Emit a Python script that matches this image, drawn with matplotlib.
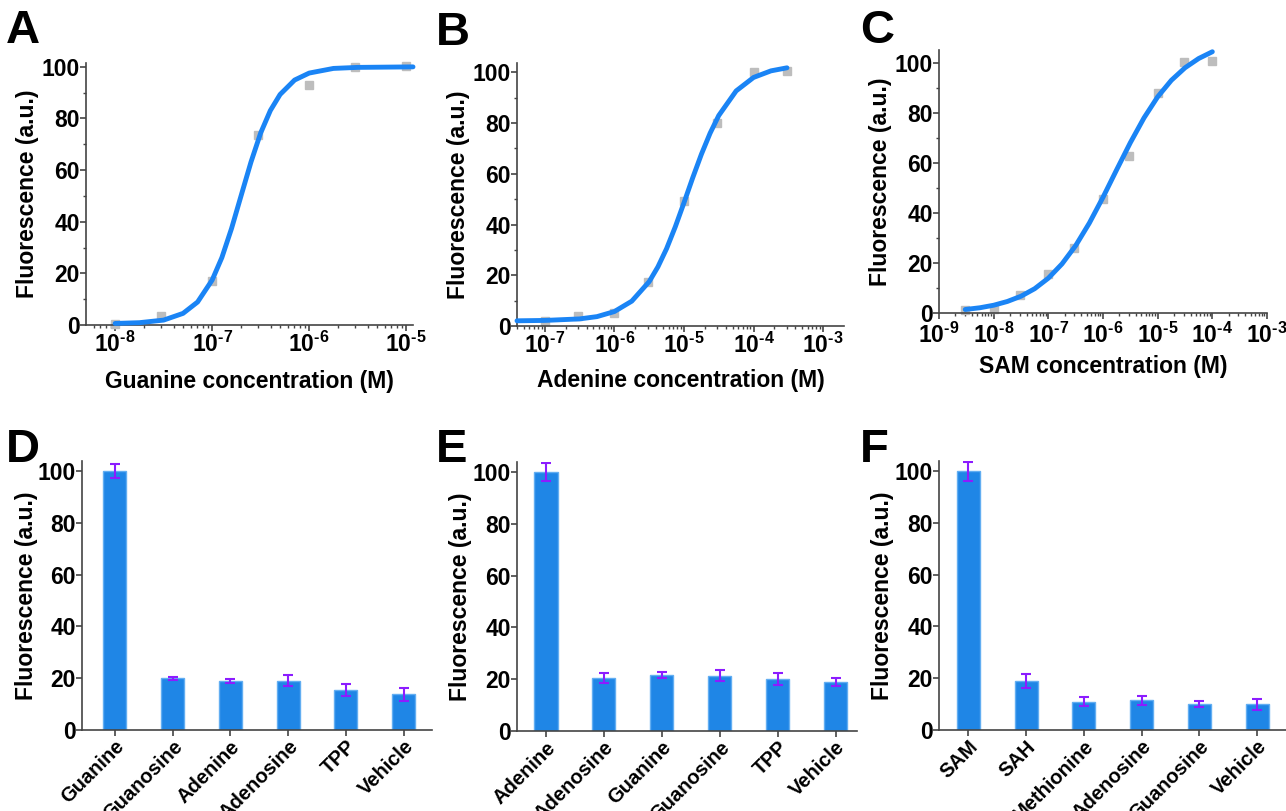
import numpy as np
import matplotlib
matplotlib.use("Agg")
import matplotlib.pyplot as plt
from matplotlib.ticker import FuncFormatter, LogLocator, MultipleLocator, NullFormatter

plt.rcParams['font.family'] = ['Liberation Sans', 'DejaVu Sans']
plt.rcParams['font.weight'] = 'bold'
plt.rcParams['mathtext.fontset'] = 'custom'
plt.rcParams['mathtext.rm'] = 'Liberation Sans:bold'
plt.rcParams['mathtext.bf'] = 'Liberation Sans:bold'

# ---- dose-response data (grey squares) ----
a_conc = [1e-8, 3e-8, 1e-7, 3e-7, 1e-6, 3e-6, 1e-5]
a_fluo = [0.5, 3.5, 17.0, 73.5, 93.0, 100.0, 100.5]
b_conc = [1e-7, 3e-7, 1e-6, 3e-6, 1e-5, 3e-5, 1e-4, 3e-4]
b_fluo = [2.0, 3.9, 5.3, 17.5, 49.4, 80.0, 100.0, 100.5]
c_conc = [3e-9, 1e-8, 3e-8, 1e-7, 3e-7, 1e-6, 3e-6, 1e-5, 3e-5, 1e-4]
c_fluo = [1.3, 1.6, 7.3, 15.7, 26.0, 45.5, 62.8, 88.0, 100.3, 100.7]

# ---- fitted curves (log10 concentration, fluorescence) ----
a_fit_logx = [-8.0, -7.75, -7.5, -7.3, -7.15, -7.0, -6.9, -6.8, -6.7, -6.6,
              -6.5, -6.4, -6.3, -6.15, -6.0, -5.75, -5.5, -4.93]
a_fit_y = [0.6, 0.9, 1.9, 4.5, 8.9, 17.4, 26.1, 37.4, 50.3, 63.1,
           74.4, 83.1, 89.3, 94.9, 97.6, 99.4, 99.8, 100.0]
b_fit_logx = [-7.4, -7.0, -6.5, -6.25, -6.0, -5.75, -5.5, -5.375, -5.25, -5.125,
              -5.0, -4.875, -4.75, -4.625, -4.5, -4.25, -4.0, -3.75, -3.52]
b_fit_y = [2.05, 2.2, 2.8, 3.7, 5.7, 9.8, 17.5, 23.3, 30.5, 39.1,
           48.6, 58.4, 67.7, 76.0, 83.0, 92.7, 98.0, 100.6, 101.8]
c_fit_logx = [-8.52, -8.25, -8.0, -7.75, -7.5, -7.25, -7.0, -6.75, -6.5, -6.25,
              -6.0, -5.75, -5.5, -5.25, -5.0, -4.75, -4.5, -4.25, -4.0]
c_fit_y = [1.4, 2.1, 3.1, 4.6, 6.7, 9.7, 13.9, 19.6, 26.9, 35.9,
           46.2, 57.2, 68.0, 77.9, 86.3, 92.9, 97.9, 101.6, 104.3]

# ---- selectivity bars ----
d_names = ["Guanine", "Guanosine", "Adenine", "Adenosine", "TPP", "Vehicle"]
d_vals = [100.0, 19.9, 19.0, 19.0, 15.4, 13.8]
d_err = [2.8, 0.5, 0.8, 2.1, 2.3, 2.6]
e_names = ["Adenine", "Adenosine", "Guanine", "Guanosine", "TPP", "Vehicle"]
e_vals = [100.0, 20.5, 21.7, 21.4, 20.2, 18.8]
e_err = [3.6, 1.8, 1.1, 2.2, 2.3, 1.6]
f_names = ["SAM", "SAH", "Methionine", "Adenosine", "Guanosine", "Vehicle"]
f_vals = [100.0, 19.0, 10.9, 11.4, 10.0, 10.0]
f_err = [3.7, 2.6, 1.8, 1.9, 1.1, 2.1]

W, H = 1286, 811
FS = 16.5
CURVE = '#1a84f5'
BAR = '#1f86e6'
ERR = '#8c1cff'
SPINE = '#444444'

fig = plt.figure(figsize=(W / 100, H / 100), dpi=100)


def px_axes(left, right, top, bottom):
    return fig.add_axes([left / W, 1 - bottom / H, (right - left) / W, (bottom - top) / H])


def style(ax, ylabelpad):
    for s in ['top', 'right']:
        ax.spines[s].set_visible(False)
    for s in ['left', 'bottom']:
        ax.spines[s].set_color(SPINE)
        ax.spines[s].set_linewidth(1.2)
    ax.tick_params(which='major', direction='out', length=4, width=1.2, color=SPINE,
                   labelsize=FS, pad=1)
    ax.tick_params(axis='y', which='major', pad=0.5)
    ax.tick_params(which='minor', direction='out', length=2.5, width=1.0, color=SPINE)
    ax.set_ylabel('Fluorescence (a.u.)', fontsize=FS, fontweight='bold', labelpad=ylabelpad)


def pow10(v, pos):
    # Origin-style exponent with a plain hyphen
    return r'$\mathbf{10^{\text{-}%d}}$' % abs(int(round(np.log10(v))))


def panel_letter(letter, xy):
    fig.text(xy[0] / W, 1 - xy[1] / H, letter, fontsize=34, fontweight='bold',
             ha='left', va='top')


def dose_panel(box, conc, fluo, fit_logx, fit_y, xlim, ytop, xlabel, xlabelpad,
               letter, letter_xy, xpad=1):
    ax = px_axes(*box)
    style(ax, 2)
    ax.set_xscale('log')
    ax.plot(conc, fluo, 's', ms=6, color='#bdbdbd', zorder=2, clip_on=False)
    ax.plot(10.0 ** np.array(fit_logx), fit_y, '-', color=CURVE, lw=3.5,
            solid_capstyle='round', solid_joinstyle='round', zorder=3, clip_on=False)
    ax.set_xlim(*xlim)
    ax.set_ylim(0, ytop)
    ax.xaxis.set_major_locator(LogLocator(base=10, numticks=20))
    ax.xaxis.set_minor_locator(LogLocator(base=10, subs=np.arange(2, 10), numticks=20))
    ax.xaxis.set_major_formatter(FuncFormatter(pow10))
    ax.xaxis.set_minor_formatter(NullFormatter())
    ax.tick_params(axis='x', which='major', pad=xpad)
    ax.yaxis.set_major_locator(MultipleLocator(20))
    ax.yaxis.set_minor_locator(MultipleLocator(10))
    ax.set_xlabel(xlabel, fontsize=FS, fontweight='bold', labelpad=xlabelpad)
    panel_letter(letter, letter_xy)
    return ax


def bar_panel(box, names, vals, errs, xlim, ytop, letter, letter_xy):
    ax = px_axes(*box)
    style(ax, 0)
    x = np.arange(len(names))
    ax.bar(x, vals, width=0.4, color=BAR, edgecolor='#62aef2', linewidth=1.0, zorder=2)
    ax.errorbar(x, vals, yerr=errs, fmt='none', ecolor=ERR, elinewidth=1.5,
                capsize=3.5, capthick=1.5, zorder=3)
    ax.set_xlim(*xlim)
    ax.set_ylim(0, ytop)
    ax.set_xticks(x)
    ax.set_xticklabels(names, rotation=45, ha='right', rotation_mode='anchor', fontsize=14.5)
    ax.yaxis.set_major_locator(MultipleLocator(20))
    panel_letter(letter, letter_xy)
    return ax


dose_panel((86, 413, 63, 325), a_conc, a_fluo, a_fit_logx, a_fit_y,
           (10 ** -8.3, 10 ** -4.93), 101.5, 'Guanine concentration (M)', 9, 'A', (6, 9))
dose_panel((517, 844, 63, 326), b_conc, b_fluo, b_fit_logx, b_fit_y,
           (10 ** -7.4, 10 ** -2.7), 103.7, 'Adenine concentration (M)', 8, 'B', (436, 11))
dose_panel((939, 1267, 50, 313), c_conc, c_fluo, c_fit_logx, c_fit_y,
           (1e-9, 1e-3), 105, 'SAM concentration (M)', 5, 'C', (860, 9), xpad=3)

bar_panel((82, 432, 461, 730), d_names, d_vals, d_err, (-0.57, 5.49), 103.9, 'D', (6, 428))
bar_panel((517, 857, 462, 731), e_names, e_vals, e_err, (-0.5, 5.37), 103.9, 'E', (436, 428))
bar_panel((939, 1286, 461, 730), f_names, f_vals, f_err, (-0.51, 5.5), 103.9, 'F', (860, 428))

fig.savefig('out.png', dpi=100)
